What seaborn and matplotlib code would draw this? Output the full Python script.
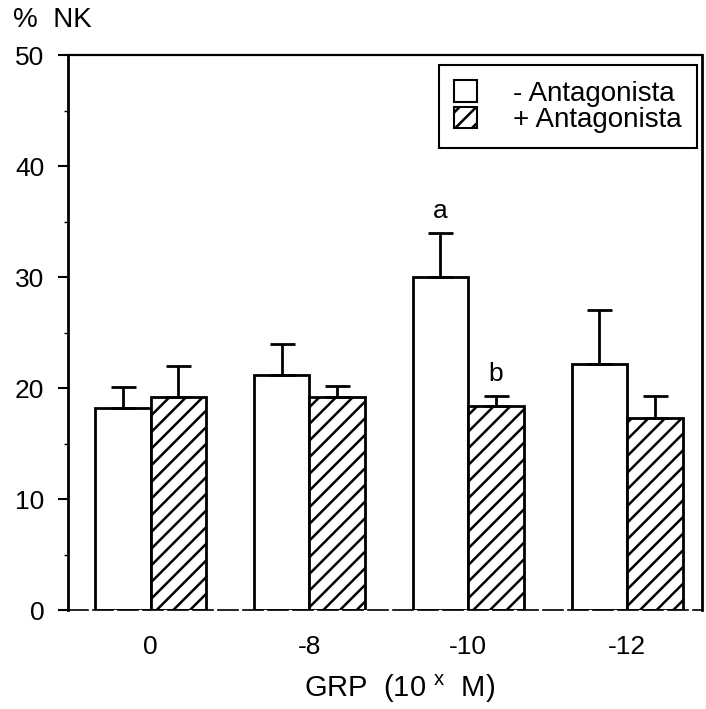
import matplotlib
matplotlib.use("Agg")
import matplotlib.pyplot as plt
import seaborn as sns
import pandas as pd
import numpy as np
from matplotlib.patches import Patch

categories = ["0", "-8", "-10", "-12"]
series_names = ["- Antagonista", "+ Antagonista"]
minus_vals = [18.2, 21.2, 30.0, 22.2]
minus_err = [1.9, 2.8, 4.0, 4.8]
plus_vals = [19.2, 19.2, 18.4, 17.3]
plus_err = [2.8, 1.0, 0.9, 2.0]
yticks = [0, 10, 20, 30, 40, 50]
annotations = [("a", 2, 0), ("b", 2, 1)]

sns.set_theme(style="white")
plt.rcParams["font.family"] = ["Liberation Sans", "DejaVu Sans"]
plt.rcParams["hatch.linewidth"] = 1.8
plt.rcParams["text.color"] = "black"
plt.rcParams["axes.labelcolor"] = "black"
plt.rcParams["xtick.color"] = "black"
plt.rcParams["ytick.color"] = "black"

FS = 19

df = pd.DataFrame({
    "GRP": categories * 2,
    "serie": [series_names[0]] * 4 + [series_names[1]] * 4,
    "valor": minus_vals + plus_vals,
})

fig = plt.figure(figsize=(7.06, 7.09), dpi=100)
ax = fig.add_axes([0.0963, 0.1396, 0.8977, 0.7828])

sns.barplot(data=df, x="GRP", y="valor", hue="serie", order=categories,
            hue_order=series_names, palette=["white", "white"], width=0.7,
            edgecolor="black", linewidth=2, errorbar=None, ax=ax, legend=False)

bars = [p for p in ax.patches][:8]
for i, p in enumerate(bars):
    if i >= 4:
        p.set_hatch("//")
errs = minus_err + plus_err
vals = minus_vals + plus_vals
for p, v, e in zip(bars, vals, errs):
    xc = p.get_x() + p.get_width() / 2
    ax.errorbar([xc], [v], yerr=[[0], [e]], fmt="none", ecolor="black",
                elinewidth=2, capsize=9, capthick=2, zorder=3)

for label, gi, si in annotations:
    p = bars[si * 4 + gi]
    xc = p.get_x() + p.get_width() / 2
    top = vals[si * 4 + gi] + errs[si * 4 + gi]
    ax.text(xc, top + 0.9, label, ha="center", va="bottom", fontsize=FS)

ax.set_xlim(-0.52, 3.47)
ax.set_ylim(0, 50)
ax.set_yticks(yticks)
ax.set_yticklabels([str(t) for t in yticks], fontsize=FS)
ax.set_yticks([5, 15, 25, 35, 45], minor=True)
ax.tick_params(axis="y", which="major", direction="out", length=7, width=1.5, left=True, pad=10)
ax.tick_params(axis="y", which="minor", direction="out", length=3, width=1, left=True)
ax.tick_params(axis="x", length=0, labelsize=FS, pad=18)
ax.set_xlabel("GRP  (10 $^{\\mathregular{x}}$  M)", fontsize=21, va="center")
ax.xaxis.set_label_coords(0.524, -0.142)
ax.set_ylabel("")
for s in ["left", "right"]:
    ax.spines[s].set_color("black")
    ax.spines[s].set_linewidth(2)
ax.spines["top"].set_color("black")
ax.spines["top"].set_linewidth(1.6)
ax.spines["bottom"].set_color("black")
ax.spines["bottom"].set_linewidth(1.2)
ax.spines["bottom"].set_linestyle((0, (12, 3)))

fig.text(0.018, 0.972, "%  NK", fontsize=20, ha="left", va="center")

handles = [Patch(facecolor="white", edgecolor="black", linewidth=1.5),
           Patch(facecolor="white", edgecolor="black", hatch="//", linewidth=1.5)]
leg = ax.legend(handles, series_names, loc="upper right", fontsize=20, frameon=True,
                fancybox=False, edgecolor="black", framealpha=1, handlelength=0.8,
                handleheight=0.8, handletextpad=1.3, borderpad=0.55, labelspacing=0.0,
                borderaxespad=0, bbox_to_anchor=(0.992, 0.982))
leg.get_frame().set_linewidth(1.5)

fig.savefig("out.png", dpi=100)
